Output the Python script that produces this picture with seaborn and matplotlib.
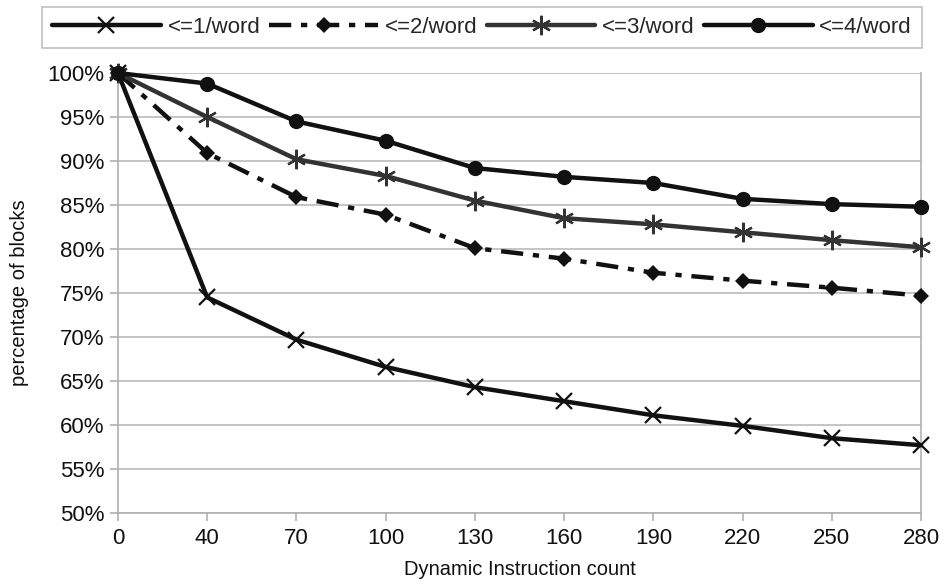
import matplotlib
matplotlib.use("Agg")
import matplotlib.pyplot as plt
import seaborn as sns
import pandas as pd
from matplotlib.ticker import FuncFormatter

# Dynamic instruction counts (categorical x axis)
counts = ["0", "40", "70", "100", "130", "160", "190", "220", "250", "280"]

# Percentage of blocks under each per-word threshold
le1 = [100, 74.5, 69.7, 66.6, 64.3, 62.7, 61.1, 59.9, 58.5, 57.7]
le2 = [100, 90.9, 85.9, 83.9, 80.1, 78.9, 77.3, 76.4, 75.6, 74.7]
le3 = [100, 95.0, 90.2, 88.3, 85.5, 83.5, 82.8, 81.9, 81.0, 80.2]
le4 = [100, 98.8, 94.5, 92.3, 89.2, 88.2, 87.5, 85.7, 85.1, 84.8]

series_names = ["<=1/word", "<=2/word", "<=3/word", "<=4/word"]
series_values = [le1, le2, le3, le4]

sns.set_style("white")
plt.rcParams["font.family"] = ["Liberation Sans", "DejaVu Sans"]

black = "#111111"
dark = "#333333"
styles = {
    "<=1/word": dict(color=black, marker="x", markersize=12, markeredgewidth=1.6,
                     markeredgecolor=black, linestyle="-"),
    "<=2/word": dict(color=black, marker="D", markersize=8, markeredgewidth=0,
                     markeredgecolor=black, linestyle=(0, (5, 2.2, 1.4, 2.2))),
    "<=3/word": dict(color=dark, marker=(6, 2, 0), markersize=14, markeredgewidth=1.6,
                     markeredgecolor=dark, linestyle="-"),
    "<=4/word": dict(color=black, marker="o", markersize=11, markeredgewidth=0,
                     markeredgecolor=black, linestyle="-"),
}

fig = plt.figure(figsize=(9.46, 5.85), dpi=100)
ax = fig.add_axes([0.1247, 0.1231, 0.9736 - 0.1247, 0.8752 - 0.1231])

for name, vals in zip(series_names, series_values):
    df = pd.DataFrame({"count": counts, "pct": vals})
    st = styles[name]
    sns.lineplot(data=df, x="count", y="pct", ax=ax, label=name, lw=3.2,
                 sort=False, clip_on=False, zorder=3, **st)

ax.set_xlim(0, len(counts) - 1)
ax.set_ylim(50, 100)
ax.set_yticks(range(50, 101, 5))
ax.yaxis.set_major_formatter(FuncFormatter(lambda v, p: f"{int(v)}%"))

ax.grid(axis="y", color="#c0c0c0", lw=1.3)
ax.grid(axis="x", visible=False)
for side in ["left", "bottom", "right"]:
    ax.spines[side].set_visible(True)
    ax.spines[side].set_color("#b0b0b0")
    ax.spines[side].set_linewidth(1.2)
ax.spines["top"].set_visible(False)

ax.tick_params(axis="both", which="major", direction="out", length=6, width=1.2,
               color="#b0b0b0", labelsize=16, labelcolor=black, pad=4)
ax.tick_params(axis="x", bottom=True, pad=5)
ax.tick_params(axis="y", left=True)

ax.set_xlabel("Dynamic Instruction count", fontsize=14.5, color=black, labelpad=8)
ax.set_ylabel("percentage of blocks", fontsize=14.5, color=black, labelpad=13)

handles, labels = ax.get_legend_handles_labels()
ax.get_legend().remove()
leg = fig.legend(handles, labels, loc="upper left", ncol=4,
                 bbox_to_anchor=(0.0444, 0.988, 0.9302, 0.0), mode="expand",
                 frameon=True, fancybox=False, fontsize=16, handlelength=4.9,
                 handletextpad=0.3, columnspacing=0.4, borderpad=0.45,
                 borderaxespad=0.0, edgecolor="#b0b0b0")
leg.get_frame().set_linewidth(1.2)

fig.savefig("out.png", dpi=100)
